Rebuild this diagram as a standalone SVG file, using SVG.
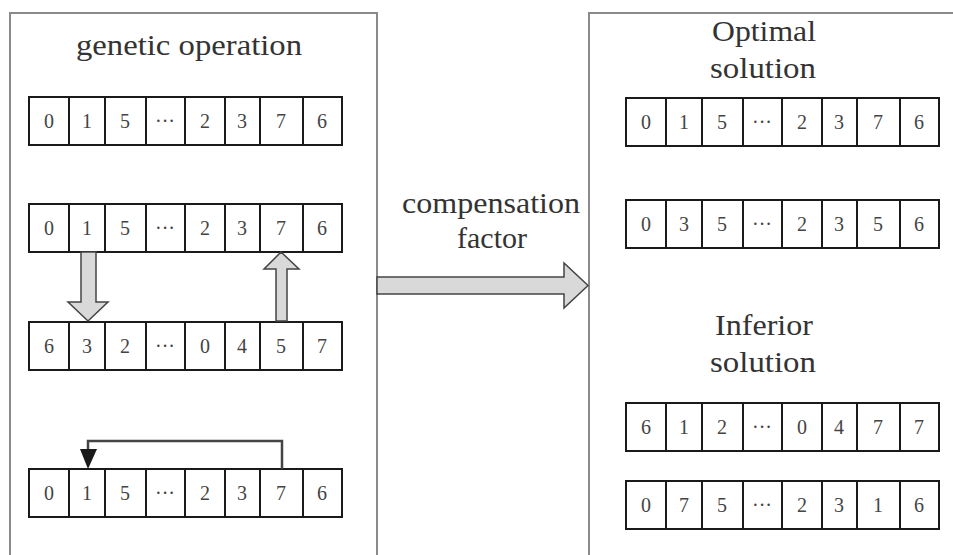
<svg xmlns="http://www.w3.org/2000/svg" width="953" height="555" viewBox="0 0 953 555">
  <style>
    .panel { fill: #ffffff; stroke: #8a8a8a; stroke-width: 2; }
    .cellbox { fill: #ffffff; stroke: #1a1a1a; stroke-width: 2; }
    .div { stroke: #1a1a1a; stroke-width: 2; }
    .digit { font-family: "Liberation Serif", "Times New Roman", serif; font-size: 20px; fill: #444; text-anchor: middle; }
    .title { font-family: "Liberation Serif", "Times New Roman", serif; font-size: 29px; fill: #333; text-anchor: middle; }
    .fat { fill: #d9d9d9; stroke: #444; stroke-width: 1.5; stroke-linejoin: miter; }
    .link { fill: none; stroke: #444; stroke-width: 2.5; }
  </style>
  <defs>
    <!-- one chromosome row: 8 cells, height 48 -->
    <g id="rowframe">
      <rect class="cellbox" x="29" y="0" width="313" height="48"/>
      <line class="div" x1="69" y1="0" x2="69" y2="48"/>
      <line class="div" x1="105" y1="0" x2="105" y2="48"/>
      <line class="div" x1="146" y1="0" x2="146" y2="48"/>
      <line class="div" x1="185" y1="0" x2="185" y2="48"/>
      <line class="div" x1="225" y1="0" x2="225" y2="48"/>
      <line class="div" x1="260" y1="0" x2="260" y2="48"/>
      <line class="div" x1="303" y1="0" x2="303" y2="48"/>
    </g>
  </defs>

  <!-- panels -->
  <g id="panel-genetic">
    <rect class="panel" x="10" y="13" width="367" height="560"/>
    <text class="title" x="189" y="55" textLength="226" lengthAdjust="spacingAndGlyphs">genetic operation</text>
  </g>
  <g id="panel-solutions">
    <rect class="panel" x="589" y="13" width="380" height="560"/>
    <text class="title" x="764" y="41" textLength="104" lengthAdjust="spacingAndGlyphs">Optimal</text>
    <text class="title" x="763" y="78" textLength="106" lengthAdjust="spacingAndGlyphs">solution</text>
    <text class="title" x="764" y="335" textLength="98" lengthAdjust="spacingAndGlyphs">Inferior</text>
    <text class="title" x="763" y="372" textLength="106" lengthAdjust="spacingAndGlyphs">solution</text>
  </g>

  <!-- left rows -->
  <g id="row-l1" transform="translate(0,97)">
    <use href="#rowframe"/>
    <text class="digit" y="31"><tspan x="49">0</tspan><tspan x="87">1</tspan><tspan x="125">5</tspan><tspan x="165">···</tspan><tspan x="205">2</tspan><tspan x="242">3</tspan><tspan x="281">7</tspan><tspan x="322">6</tspan></text>
  </g>
  <g id="row-l2" transform="translate(0,204)">
    <use href="#rowframe"/>
    <text class="digit" y="31"><tspan x="49">0</tspan><tspan x="87">1</tspan><tspan x="125">5</tspan><tspan x="165">···</tspan><tspan x="205">2</tspan><tspan x="242">3</tspan><tspan x="281">7</tspan><tspan x="322">6</tspan></text>
  </g>
  <g id="row-l3" transform="translate(0,322)">
    <use href="#rowframe"/>
    <text class="digit" y="31"><tspan x="49">6</tspan><tspan x="87">3</tspan><tspan x="125">2</tspan><tspan x="165">···</tspan><tspan x="205">0</tspan><tspan x="242">4</tspan><tspan x="281">5</tspan><tspan x="322">7</tspan></text>
  </g>
  <g id="row-l4" transform="translate(0,469)">
    <use href="#rowframe"/>
    <text class="digit" y="31"><tspan x="49">0</tspan><tspan x="87">1</tspan><tspan x="125">5</tspan><tspan x="165">···</tspan><tspan x="205">2</tspan><tspan x="242">3</tspan><tspan x="281">7</tspan><tspan x="322">6</tspan></text>
  </g>

  <!-- right rows -->
  <g id="row-r1" transform="translate(597,98)">
    <use href="#rowframe"/>
    <text class="digit" y="31"><tspan x="49">0</tspan><tspan x="87">1</tspan><tspan x="125">5</tspan><tspan x="165">···</tspan><tspan x="205">2</tspan><tspan x="242">3</tspan><tspan x="281">7</tspan><tspan x="322">6</tspan></text>
  </g>
  <g id="row-r2" transform="translate(597,200)">
    <use href="#rowframe"/>
    <text class="digit" y="31"><tspan x="49">0</tspan><tspan x="87">3</tspan><tspan x="125">5</tspan><tspan x="165">···</tspan><tspan x="205">2</tspan><tspan x="242">3</tspan><tspan x="281">5</tspan><tspan x="322">6</tspan></text>
  </g>
  <g id="row-r3" transform="translate(597,403)">
    <use href="#rowframe"/>
    <text class="digit" y="31"><tspan x="49">6</tspan><tspan x="87">1</tspan><tspan x="125">2</tspan><tspan x="165">···</tspan><tspan x="205">0</tspan><tspan x="242">4</tspan><tspan x="281">7</tspan><tspan x="322">7</tspan></text>
  </g>
  <g id="row-r4" transform="translate(597,481)">
    <use href="#rowframe"/>
    <text class="digit" y="31"><tspan x="49">0</tspan><tspan x="87">7</tspan><tspan x="125">5</tspan><tspan x="165">···</tspan><tspan x="205">2</tspan><tspan x="242">3</tspan><tspan x="281">1</tspan><tspan x="322">6</tspan></text>
  </g>

  <!-- connectors -->
  <g id="connectors">
    <polygon class="fat" points="81,252 96,252 96,302 108,302 88,321 68,302 81,302"/>
    <polygon class="fat" points="276,321 287,321 287,269 299,269 281,252 264,269 276,269"/>
    <polyline class="link" points="282,469 282,441 88,441 88,450"/>
    <polygon points="80,449 97,449 88,469" fill="#1a1a1a"/>
    <polygon class="fat" points="377,277 564,277 564,263 588,285.5 564,308 564,294 377,294"/>
    <text class="title" x="491" y="213" textLength="178" lengthAdjust="spacingAndGlyphs">compensation</text>
    <text class="title" x="492" y="248" textLength="70" lengthAdjust="spacingAndGlyphs">factor</text>
  </g>
</svg>
